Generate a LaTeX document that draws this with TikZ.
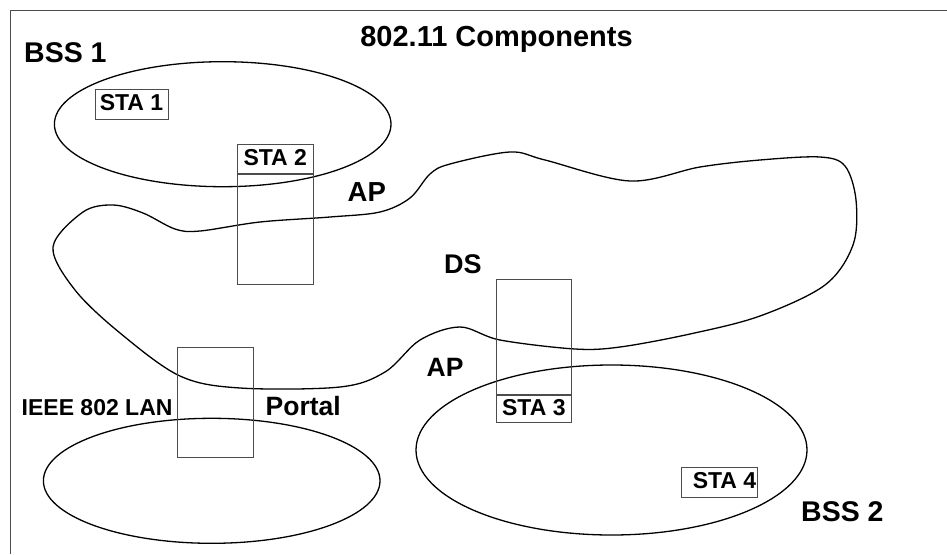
\documentclass[tikz,border=0pt]{standalone}
\usepackage{fontspec}
\setmainfont{Liberation Sans}
\usetikzlibrary{shapes.geometric}
\definecolor{boxgray}{gray}{0.3}
\tikzset{
  lbl/.style={font=\bfseries\fontsize{#1}{#1}\selectfont, inner sep=0pt, anchor=base west},
  stabox/.style={draw=boxgray, line width=0.9pt, inner sep=0pt,
    font=\bfseries\fontsize{23}{23}\selectfont, text height=16.5pt, text depth=3.5pt},
  apbox/.style={draw=boxgray, line width=0.9pt, inner sep=0pt},
  area/.style={draw=black, line width=1.3pt, ellipse, inner sep=0pt},
  curve/.style={draw=black, line width=1.3pt}
}
\begin{document}
\begin{tikzpicture}[x=1pt,y=-1pt]
\useasboundingbox (0,0) rectangle (947,554);
% frame
\draw[boxgray, line width=1pt] (10.7,554) -- (10.7,10) -- (947,10);

% ellipses
\node[area, minimum width=336.6pt, minimum height=125pt] (bss1) at (222.7,124.2) {};
\node[area, minimum width=336.6pt, minimum height=125pt] (lan) at (211.7,480.8) {};
\node[area, minimum width=391pt, minimum height=170pt] (bss2) at (611.5,450) {};

% distribution system
\draw[curve] plot[smooth cycle, tension=0.55] coordinates {
 (53,247) (83,212) (113,205) (143,213) (175,229) (200,231) (260,222) (330,217)
 (380,212) (410,198) (430,174) (450,164) (510,152) (545,160) (630,181) (700,167)
 (760,160) (820,157) (845,166) (856,200) (853,245) (825,285) (760,316) (690,334)
 (620,347) (575,349) (500,340) (460,327) (420,340) (385,372) (340,387) (240,388)
 (180,376) (120,333) (75,290)};

% stations and access points
\node[stabox, minimum width=73pt, minimum height=30pt] (sta1) at (131.5,104) {STA 1};
\node[stabox, minimum width=75.5pt, minimum height=29.5pt] (sta2) at (275.25,158.75) {STA 2};
\node[apbox, minimum width=75.5pt, minimum height=110.5pt, anchor=north] (ap2) at (sta2.south) {};
\node[stabox, minimum width=75.7pt, minimum height=27.7pt] (sta3) at (533.85,408.85) {STA 3};
\node[apbox, minimum width=75.7pt, minimum height=114.3pt, anchor=south] (ap3) at (sta3.north) {};
\node[apbox, minimum width=76pt, minimum height=110.4pt] (portalbox) at (215.3,402.5) {};
\node[stabox, minimum width=75.6pt, minimum height=29.8pt] (sta4) at (719.5,482.4) {\hspace*{10pt}STA 4};

% labels
\node[lbl=29, anchor=base] (title) at (496.5,46) {802.11 Components};
\node[lbl=28.5] (bss1lbl) at (24,62) {BSS 1};
\node[lbl=27.5] (aplbl1) at (347.5,201.7) {AP};
\node[lbl=27] (dslbl) at (444,273) {DS};
\node[lbl=26.5] (aplbl2) at (426.5,376.7) {AP};
\node[lbl=26.5] (portallbl) at (265.5,415) {Portal};
\node[lbl=23] (lanlbl) at (21.5,415) {IEEE 802 LAN};
\node[lbl=28.5] (bss2lbl) at (801,521.7) {BSS 2};
\end{tikzpicture}
\end{document}
